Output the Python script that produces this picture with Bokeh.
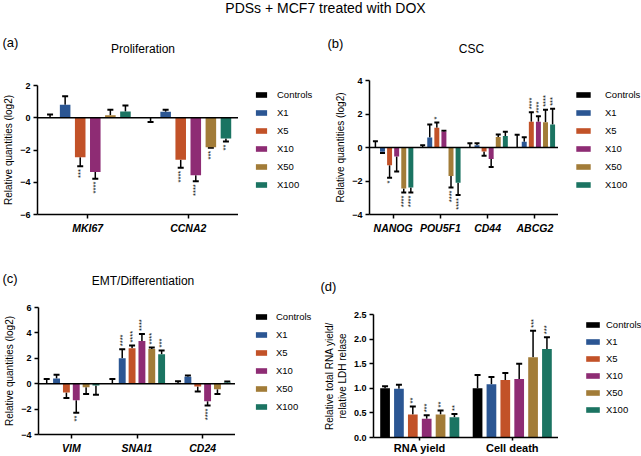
import math
from bokeh.plotting import figure
from bokeh.models import (ColumnDataSource, Range1d, FixedTicker, Whisker, TeeHead,
                          Span, Label, Legend, LegendItem, Spacer)
from bokeh.layouts import column, row
from bokeh.embed import file_html
from bokeh.resources import INLINE

FONT = "Liberation Sans"

series = ["Controls", "X1", "X5", "X10", "X50", "X100"]
colors = ["#000000", "#2b5693", "#c25228", "#8e2c74", "#a27c38", "#1b7462"]

# ---------------- (a) Proliferation ----------------
a_genes = ["MKI67", "CCNA2"]
a_mean = {"Controls": [0.0, 0.0], "X1": [0.80, 0.37], "X5": [-2.45, -2.60],
          "X10": [-3.37, -3.57], "X50": [0.15, -1.83], "X100": [0.39, -1.28]}
a_err = {"Controls": [0.20, -0.27], "X1": [1.33, 0.49], "X5": [-3.00, -3.10],
         "X10": [-3.78, -3.94], "X50": [0.49, -1.86], "X100": [0.76, -1.48]}
a_sig = {"Controls": ["", ""], "X1": ["", ""], "X5": ["***", "****"],
         "X10": ["****", "****"], "X50": ["", "***"], "X100": ["", "**"]}
a_yticks = [-6, -4, -2, 0, 2]

# ---------------- (b) CSC ----------------
b_genes = ["NANOG", "POU5F1", "CD44", "ABCG2"]
b_mean = {"Controls": [0.0, 0.0, 0.0, 0.0], "X1": [-0.25, 0.60, 0.14, 0.35],
          "X5": [-1.06, 1.18, -0.24, 1.53], "X10": [-0.53, 0.94, -0.69, 1.53],
          "X50": [-2.45, -1.70, 0.63, 1.51], "X100": [-2.39, -2.10, 0.69, 1.37]}
b_err = {"Controls": [0.37, 0.14, 0.25, 0.76], "X1": [-0.33, 1.37, 0.25, 0.61],
         "X5": [-1.80, 1.49, -0.49, 2.10], "X10": [-1.43, 1.00, -1.16, 1.86],
         "X50": [-2.69, -2.39, 0.78, 2.25], "X100": [-2.69, -2.84, 0.94, 2.31]}
b_sig = {"Controls": ["", "", "", ""], "X1": ["", "", "", ""],
         "X5": ["*", "*", "", "****"], "X10": ["", "", "", "****"],
         "X50": ["****", "****", "", "****"], "X100": ["****", "****", "", "***"]}
b_yticks = [-4, -2, 0, 2, 4]

# ---------------- (c) EMT/Differentiation ----------------
c_genes = ["VIM", "SNAI1", "CD24"]
c_mean = {"Controls": [0.0, 0.0, 0.0], "X1": [0.40, 2.00, 0.54],
          "X5": [-0.69, 2.80, -0.23], "X10": [-1.31, 3.36, -1.38],
          "X50": [-0.28, 2.74, -0.44], "X100": [-0.15, 2.31, 0.10]}
c_err = {"Controls": [0.37, 0.37, 0.20], "X1": [0.70, 2.72, 0.65],
         "X5": [-1.13, 3.00, -0.62], "X10": [-2.28, 3.92, -1.72],
         "X50": [-0.82, 2.85, -0.82], "X100": [-0.87, 2.62, 0.17]}
c_sig = {"Controls": ["", "", ""], "X1": ["", "****", ""], "X5": ["", "****", ""],
         "X10": ["**", "****", "****"], "X50": ["", "****", ""], "X100": ["", "***", ""]}
c_yticks = [-4, -2, 0, 2, 4, 6]

# ---------------- (d) RNA yield / cell death ----------------
d_groups = ["RNA yield", "Cell death"]
d_mean = {"Controls": [1.00, 1.00], "X1": [0.99, 1.08], "X5": [0.47, 1.17],
          "X10": [0.38, 1.19], "X50": [0.47, 1.63], "X100": [0.41, 1.80]}
d_err = {"Controls": [1.04, 1.27], "X1": [1.07, 1.23], "X5": [0.63, 1.31],
         "X10": [0.45, 1.50], "X50": [0.55, 2.17], "X100": [0.48, 2.04]}
d_sig = {"Controls": ["", ""], "X1": ["", ""], "X5": ["**", ""],
         "X10": ["***", ""], "X50": ["**", "***"], "X100": ["**", "***"]}
d_yticks = [0.0, 0.5, 1.0, 1.5, 2.0, 2.5]

STEP = 0.15
BAR_W = 0.105


def blank(W, H, left=0, top=0):
    f = figure(width=W, height=H, output_backend="svg", toolbar_location=None,
               x_axis_location=None, y_axis_location=None, title=None,
               frame_align=False,
               min_border_left=left, min_border_top=top, min_border_right=0,
               min_border_bottom=0,
               x_range=Range1d(0, 1), y_range=Range1d(0, 1))
    f.outline_line_color = None
    f.grid.visible = False
    return f


def add_label(f, x, y, text, size, align="left"):
    f.add_layout(Label(x=x, y=y, x_units="screen", y_units="screen", text=text,
                       text_font=FONT, text_font_size=size, text_baseline="middle",
                       text_align=align, text_color="black"))


def bar_source(cats, mean, err):
    xs, tops, ends, cols = [], [], [], []
    for k, s in enumerate(series):
        off = (k - 2.5) * STEP
        for i in range(len(cats)):
            xs.append(i + off)
            tops.append(mean[s][i])
            ends.append(err[s][i])
            cols.append(colors[k])
    return ColumnDataSource(dict(x=xs, top=tops, end=ends, color=cols))


def legend_box(src, n, W, H, gw, gh, lx, top, stand, spacing):
    f = blank(W, H - top, left=lx, top=0)
    r = f.vbar(x="x", top="top", bottom=0, width=BAR_W, fill_color="color",
               line_color=None, source=src)
    r.visible = False
    items = [LegendItem(label=s, renderers=[r], index=k * n)
             for k, s in enumerate(series)]
    f.add_layout(Legend(items=items, location="top_left", glyph_width=gw,
                        glyph_height=gh, label_standoff=stand, spacing=spacing,
                        padding=0, margin=0, label_height=12,
                        inactive_fill_alpha=0, click_policy="none",
                        border_line_color=None, background_fill_alpha=0,
                        label_text_font=FONT, label_text_font_size="9.5px",
                        label_text_color="black"))
    return column(Spacer(width=W, height=top), f)


def panel(src, cats, mean, err, sig, yr, yticks, ylabel, W, H, bl, bt, bb,
          zero_line, xstyle, xsize, cap, xtick=4, xstand=3):
    p = figure(width=W, height=H, output_backend="svg", toolbar_location=None,
               title=None, frame_align=False,
               x_range=Range1d(-0.5, len(cats) - 0.5), y_range=Range1d(*yr),
               min_border_left=bl, min_border_right=0, min_border_top=bt,
               min_border_bottom=bb)
    p.outline_line_color = None
    p.xgrid.visible = False
    p.ygrid.visible = False

    nx, ny, nt, px, py, pt = [], [], [], [], [], []
    for k, s in enumerate(series):
        off = (k - 2.5) * STEP
        for i in range(len(cats)):
            if sig[s][i]:
                if err[s][i] < 0:
                    nx.append(i + off); ny.append(err[s][i]); nt.append(sig[s][i])
                else:
                    px.append(i + off); py.append(err[s][i]); pt.append(sig[s][i])
    p.vbar(x="x", top="top", bottom=0, width=BAR_W, fill_color="color",
           line_color=None, source=src)
    if zero_line:
        p.add_layout(Span(location=0, dimension="width", line_color="black",
                          line_width=1.5))
    p.add_layout(Whisker(base="x", lower="top", upper="end", source=src,
                         dimension="height", line_color="black", line_width=1.5,
                         lower_head=None,
                         upper_head=TeeHead(size=cap, line_color="black",
                                            line_width=2)))
    sfont = "7.5px"
    if nx:
        p.text(x=nx, y=ny, text=nt, angle=math.pi / 2, text_align="right",
               text_baseline="middle", y_offset=3, text_font_size=sfont,
               text_color="black")
    if px:
        p.text(x=px, y=py, text=pt, angle=math.pi / 2, text_align="left",
               text_baseline="middle", y_offset=-3, text_font_size=sfont,
               text_color="black")

    p.xaxis.ticker = FixedTicker(ticks=list(range(len(cats))))
    p.xaxis.major_label_overrides = {i: c for i, c in enumerate(cats)}
    p.yaxis.ticker = FixedTicker(ticks=yticks, minor_ticks=[])
    if isinstance(yticks[0], float):
        p.yaxis.major_label_overrides = {t: f"{t:.1f}" for t in yticks}
    for ax in (p.xaxis[0], p.yaxis[0]):
        ax.axis_line_width = 1.5
        ax.major_tick_line_width = 1.5
        ax.major_tick_out = 4
        ax.major_tick_in = 0
        ax.minor_tick_out = 0
        ax.minor_tick_in = 0
        ax.major_label_text_font = FONT
        ax.major_label_text_color = "black"
        ax.axis_line_color = "black"
        ax.major_tick_line_color = "black"
    p.xaxis.major_tick_out = xtick
    p.xaxis.major_label_text_font_style = xstyle
    p.xaxis.major_label_text_font_size = xsize
    p.xaxis.major_label_standoff = xstand
    p.yaxis.major_label_text_font_style = "bold"
    p.yaxis.major_label_text_font_size = "9px"
    p.yaxis.major_label_standoff = 3
    p.yaxis.axis_label = ylabel
    p.yaxis.axis_label_text_font = FONT
    p.yaxis.axis_label_text_font_style = "normal"
    p.yaxis.axis_label_text_font_size = "10px"
    p.yaxis.axis_label_text_color = "black"
    p.yaxis.axis_label_standoff = 3
    return p


src_a = bar_source(a_genes, a_mean, a_err)
src_b = bar_source(b_genes, b_mean, b_err)
src_c = bar_source(c_genes, c_mean, c_err)
src_d = bar_source(d_groups, d_mean, d_err)

# header above the top row (title, panel tags, subtitles)
head1 = blank(641, 56)
add_label(head1, 325, 49, "PDSs + MCF7 treated with DOX", "14px", "center")
add_label(head1, 2, 14, "(a)", "13px")
add_label(head1, 142.5, 8, "Proliferation", "12px", "center")
add_label(head1, 327, 13, "(b)", "13px")
add_label(head1, 471, 8, "CSC", "12px", "center")

pa = panel(src_a, a_genes, a_mean, a_err, a_sig, (-6, 2), a_yticks,
           "Relative quantities (log2)", 238, 180, 37, 29, 20, True,
           "bold italic", "10.5px", 6)
la = legend_box(src_a, len(a_genes), 82, 180, 14, 7, 16, 32, 9, 6)
pb = panel(src_b, b_genes, b_mean, b_err, b_sig, (-4, 4), b_yticks,
           "Relative quantities (log2)", 238, 180, 49, 24, 20, True,
           "bold italic", "10.5px", 5)
lb = legend_box(src_b, len(b_genes), 83, 180, 18, 7, 16, 32, 13, 6)

head2 = blank(641, 60)
add_label(head2, 2, 18, "(c)", "13px")
add_label(head2, 142.5, 15.5, "EMT/Differentiation", "12px", "center")
add_label(head2, 320, 10, "(d)", "13px")

pc = panel(src_c, c_genes, c_mean, c_err, c_sig, (-4, 6), c_yticks,
           "Relative quantities (log2)", 235, 160, 38, 11, 19, True,
           "bold italic", "10.5px", 6)
lc = legend_box(src_c, len(c_genes), 85, 160, 14, 7, 19, 14, 8, 6)
pd_ = panel(src_d, d_groups, d_mean, d_err, d_sig, (0, 2.5), d_yticks,
            "Relative total RNA yield/\nrelative LDH relase", 238, 160, 48, 18, 17,
            False, "bold", "11px", 6, xtick=3, xstand=1)
ld = legend_box(src_d, len(d_groups), 83, 160, 17, 7, 26, 22, 5, 5)

layout = column(head1, row(pa, la, pb, lb), head2, row(pc, lc, pd_, ld))

open("out.html", "w").write(file_html(layout, INLINE))
